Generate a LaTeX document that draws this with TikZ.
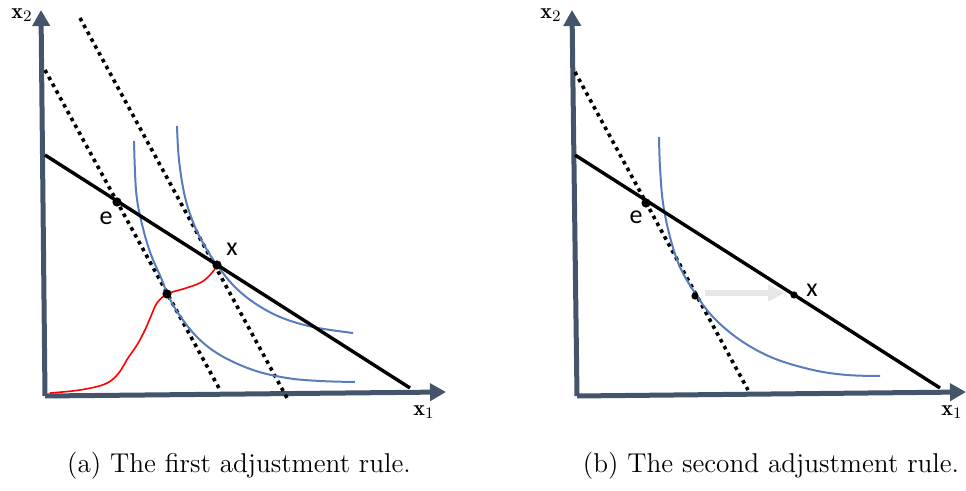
\documentclass[tikz,border=0pt]{standalone}
\usepackage{fontspec}
\newfontfamily\lblfont{Carlito}
\usetikzlibrary{arrows.meta}
\definecolor{axiscol}{RGB}{68,84,106}
\definecolor{icblue}{RGB}{88,124,188}
\definecolor{arrgrey}{RGB}{230,230,230}
\tikzset{
  axisline/.style={draw=axiscol,line width=2.5pt,-{Triangle[width=8.5pt,length=8pt]}},
  budget/.style={draw=black,line width=1.7pt},
  dotline/.style={draw=black,line width=1.8pt,dash pattern=on 1.8pt off 2.1pt},
  indiff/.style={draw=icblue,line width=1pt},
  redpath/.style={draw=red,line width=0.8pt},
  ptdot/.style={circle,fill=black,inner sep=0pt,minimum size=4.6pt},
  ptsmall/.style={circle,fill=black,inner sep=0pt,minimum size=3.6pt},
  ptlabel/.style={font=\lblfont\fontsize{13}{15}\selectfont,inner sep=0pt},
  axlabel/.style={font=\fontsize{11}{13}\selectfont,inner sep=0pt},
  caption/.style={font=\fontsize{13.6}{16}\selectfont,inner sep=0pt},
  shiftarrow/.style={draw=arrgrey,line width=3pt,-{Triangle[width=8pt,length=8.5pt]}}
}
\begin{document}
\begin{tikzpicture}[x=0.5pt,y=-0.5pt]
\useasboundingbox (0,0) rectangle (966,491);
% ---------- left panel ----------
\coordinate (Lo) at (45,396);
\coordinate (Ly) at (41,10);
\coordinate (Lx) at (446,392);
\draw[axisline] (Lo) -- (Ly);
\draw[axisline] (Lo) -- (Lx);
\node[axlabel] (Lx2) at (22,15) {$\mathbf{x}_2$};
\node[axlabel] (Lx1) at (424,412) {$\mathbf{x}_1$};
% dotted lines
\coordinate (Ld1a) at (45,70);
\coordinate (Ld1b) at (220,390);
\coordinate (Ld2a) at (80,18);
\coordinate (Ld2b) at (287,398);
\draw[dotline] (Ld1a) -- (Ld1b);
\draw[dotline] (Ld2a) -- (Ld2b);
% indifference curves
\draw[indiff] plot[smooth,tension=0.6] coordinates {(134,141) (136,190) (141,220) (150,252) (162,280) (167,293) (178,313) (197,337) (220,355) (253,370) (287,378) (320,381) (355,382)};
\draw[indiff] plot[smooth,tension=0.6] coordinates {(177,126) (179,160) (185,197) (195,227) (207,250) (217,265) (233,285) (253,302) (280,317) (313,327) (353,333)};
% budget line
\coordinate (Lba) at (45,155);
\coordinate (Lbb) at (410,388);
\draw[budget] (Lba) -- (Lbb);
% red path
\draw[redpath] plot[smooth,tension=0.6] coordinates {(50,393) (80,390) (105,384) (118,374) (128,358) (137,345) (145,330) (151,316) (157,303) (167,294) (183,289) (200,283) (210,275) (217,266)};
% points
\node[ptdot] (Le) at (117,202) {};
\node[ptdot] (Lx) at (217,265) {};
\node[ptdot] (Lm) at (167,294) {};
\node[ptlabel] (Lel) at (106,218) {e};
\node[ptlabel] (Lxl) at (232,249) {x};
\node[caption] (capa) at (239,466) {(a) The first adjustment rule.};
% ---------- right panel ----------
\coordinate (Ro) at (577,396);
\coordinate (Ry) at (572,10);
\coordinate (Rx) at (966,392);
\draw[axisline] (Ro) -- (Ry);
\draw[axisline] (Ro) -- (Rx);
\node[axlabel] (Rx2) at (551,15) {$\mathbf{x}_2$};
\node[axlabel] (Rx1) at (952,412) {$\mathbf{x}_1$};
\coordinate (Rda) at (575,72);
\coordinate (Rdb) at (748,390);
\draw[dotline] (Rda) -- (Rdb);
\draw[indiff] plot[smooth,tension=0.6] coordinates {(659,137) (660,167) (663,203) (670,237) (680,267) (695,293) (713,317) (740,340) (773,358) (813,370) (847,375) (880,376)};
\coordinate (Rba) at (575,155);
\coordinate (Rbb) at (940,388);
\draw[budget] (Rba) -- (Rbb);
\node[ptdot] (Re) at (646,203) {};
\node[ptsmall] (Rm) at (695,296) {};
\node[ptsmall] (Rxp) at (794,295) {};
\coordinate (Rarra) at (705,293);
\coordinate (Rarrb) at (785,293);
\draw[shiftarrow] (Rarra) -- (Rarrb);
\node[ptlabel] (Rel) at (636,217) {e};
\node[ptlabel] (Rxl) at (812,290) {x};
\node[caption] (capb) at (771,466) {(b) The second adjustment rule.};
\end{tikzpicture}
\end{document}
